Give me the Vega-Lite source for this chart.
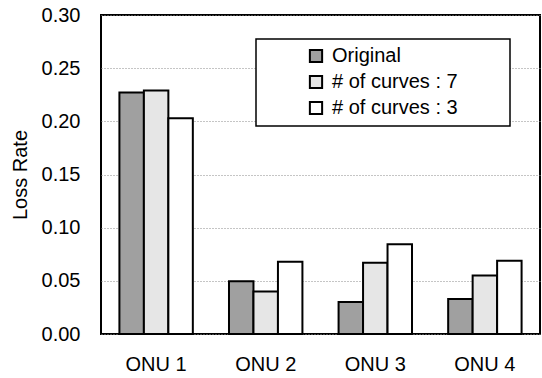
{
  "$schema": "https://vega.github.io/schema/vega-lite/v6.json",
  "autosize": {"type": "none"},
  "padding": {"left": 101, "top": 15, "right": 2, "bottom": 44},
  "width": 439,
  "height": 319,
  "config": {
    "font": "Liberation Sans",
    "view": {"stroke": "black", "strokeWidth": 2},
    "axis": {"labelColor": "black", "titleColor": "black", "domain": false, "ticks": false}
  },
  "data": {
    "values": [
      {"onu": "ONU 1", "series": "Original", "rate": 0.227},
      {"onu": "ONU 1", "series": "# of curves : 7", "rate": 0.229},
      {"onu": "ONU 1", "series": "# of curves : 3", "rate": 0.203},
      {"onu": "ONU 2", "series": "Original", "rate": 0.0495},
      {"onu": "ONU 2", "series": "# of curves : 7", "rate": 0.040},
      {"onu": "ONU 2", "series": "# of curves : 3", "rate": 0.068},
      {"onu": "ONU 3", "series": "Original", "rate": 0.030},
      {"onu": "ONU 3", "series": "# of curves : 7", "rate": 0.067},
      {"onu": "ONU 3", "series": "# of curves : 3", "rate": 0.0845},
      {"onu": "ONU 4", "series": "Original", "rate": 0.033},
      {"onu": "ONU 4", "series": "# of curves : 7", "rate": 0.055},
      {"onu": "ONU 4", "series": "# of curves : 3", "rate": 0.069}
    ]
  },
  "mark": {"type": "bar", "stroke": "black", "strokeWidth": 2},
  "encoding": {
    "x": {
      "field": "onu", "type": "nominal", "title": null,
      "scale": {"paddingInner": 0.33, "paddingOuter": 0.168},
      "axis": {"labelAngle": 0, "labelFontSize": 20, "labelPadding": 20, "grid": false}
    },
    "xOffset": {
      "field": "series", "type": "nominal",
      "sort": ["Original", "# of curves : 7", "# of curves : 3"],
      "scale": {"paddingInner": 0, "paddingOuter": 0}
    },
    "y": {
      "field": "rate", "type": "quantitative", "title": "Loss Rate",
      "scale": {"domain": [0, 0.3], "nice": false},
      "axis": {
        "values": [0, 0.05, 0.1, 0.15, 0.2, 0.25, 0.3],
        "format": ".2f",
        "labelFontSize": 20, "labelPadding": 21,
        "titleFontSize": 20, "titleFontWeight": "normal", "titlePadding": 11,
        "grid": true, "gridColor": "#8a8a8a", "gridDash": [1, 2], "gridWidth": 1
      }
    },
    "color": {
      "field": "series", "type": "nominal",
      "sort": ["Original", "# of curves : 7", "# of curves : 3"],
      "scale": {"range": ["#a0a0a0", "#e6e6e6", "#ffffff"]},
      "legend": {
        "title": null,
        "orient": "none",
        "legendX": 155,
        "legendY": 24,
        "strokeColor": "black",
        "fillColor": "white",
        "padding": 7,
        "symbolType": "square",
        "symbolSize": 150,
        "symbolStrokeColor": "black",
        "symbolStrokeWidth": 2,
        "symbolOffset": 43,
        "labelOffset": 6,
        "labelFontSize": 20,
        "labelColor": "black",
        "labelLimit": 400,
        "labelExpr": "datum.label + '\u2800\u2800\u2800'",
        "rowPadding": 4,
        "encode": {"legend": {"update": {"strokeWidth": {"value": 1.5}}}}
      }
    }
  }
}
